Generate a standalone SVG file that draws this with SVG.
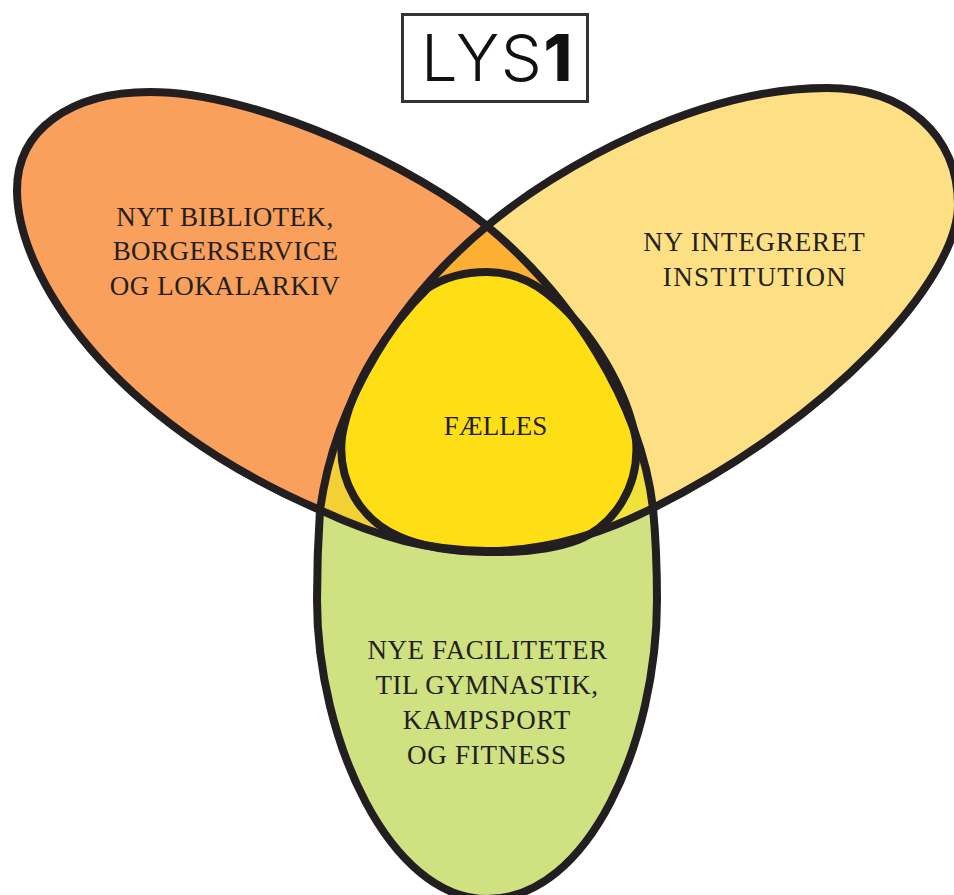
<svg xmlns="http://www.w3.org/2000/svg" width="954" height="895" viewBox="0 0 954 895">
<style>
.o{stroke:#231f20;stroke-width:8;fill:none}
.r{stroke:none}
.t{font-family:"Liberation Serif",serif;font-size:27px;letter-spacing:.45px;fill:#231f20;text-anchor:middle}
.l{font-family:"Inter","Lato",sans-serif;font-size:65px;letter-spacing:1.5px;fill:#111}
</style>
<rect width="954" height="895" fill="#fff"/>
<g id="logo">
<rect x="402.500" y="14.500" width="185" height="87" fill="#fff" stroke="#333" stroke-width="3"/>
<text class="l" x="421" y="81" font-weight="300">LYS<tspan font-weight="800">1</tspan></text>
</g>
<g id="node-library">
<path class="r" fill="#f9a05c" d="M487 226C420 170 260 92 150 92C70 92 17 130 17 190C17 275 110 420 320 510C335 400 400 298 487 226Z"/>
<text class="t"><tspan x="225" y="226">NYT BIBLIOTEK,</tspan><tspan x="225.500" y="260">BORGERSERVICE</tspan><tspan x="225" y="295" style="letter-spacing:.6px">OG LOKALARKIV</tspan></text>
</g>
<g id="node-institution">
<path class="r" fill="#fee084" d="M487 226C560 165 700 88 827 88C905 88 958 135 958 205C958 280 830 420 653 508C640 400 570 295 487 226Z"/>
<text class="t"><tspan x="754.500" y="251" style="letter-spacing:.85px">NY INTEGRERET</tspan><tspan x="755" y="286" style="letter-spacing:1.35px">INSTITUTION</tspan></text>
</g>
<g id="node-sports">
<path class="r" fill="#cfe180" d="M320 510C380 538 430 551 487 551C545 551 600 535 653 508C656 540 657 570 657 600C657 740 590 899 487 899C390 899 317 740 317 600C317 570 318 540 320 510Z"/>
<text class="t"><tspan x="487.500" y="659" style="letter-spacing:.6px">NYE FACILITETER</tspan><tspan x="487" y="694">TIL GYMNASTIK,</tspan><tspan x="487" y="729" style="letter-spacing:.9px">KAMPSPORT</tspan><tspan x="487" y="764" style="letter-spacing:.75px">OG FITNESS</tspan></text>
</g>
<g id="overlaps">
<path class="r" fill="#fbb034" d="M487 226L424 290H551Z"/>
<path class="r" fill="#f3d035" d="M320 510L340 437L380 535Z"/>
<path class="r" fill="#f0e23a" d="M653 508L638 440L595 535Z"/>
</g>
<g id="node-common">
<path fill="#fedf15" stroke="#231f20" stroke-width="8" d="M487 272C465 272 445 277 428 288C390 325 350 385 342 437C337 480 360 520 400 537C440 555 530 558 578 540C615 525 640 485 636 440C628 395 595 330 545 292C528 279 508 272 487 272Z"/>
<text class="t" style="letter-spacing:0" x="495.500" y="435" font-size="26.500">FÆLLES</text>
</g>
<g id="connectors">
<path class="o" d="M487 226C420 170 260 92 150 92C70 92 17 130 17 190C17 275 110 420 320 510C380 538 430 551 487 551C545 551 600 535 653 508C830 420 958 280 958 205C958 135 905 88 827 88C700 88 560 165 487 226C400 298 335 400 320 510C318 540 317 570 317 600C317 740 390 899 487 899C590 899 657 740 657 600C657 570 656 540 653 508C640 400 570 295 487 226Z"/>
</g>
</svg>
